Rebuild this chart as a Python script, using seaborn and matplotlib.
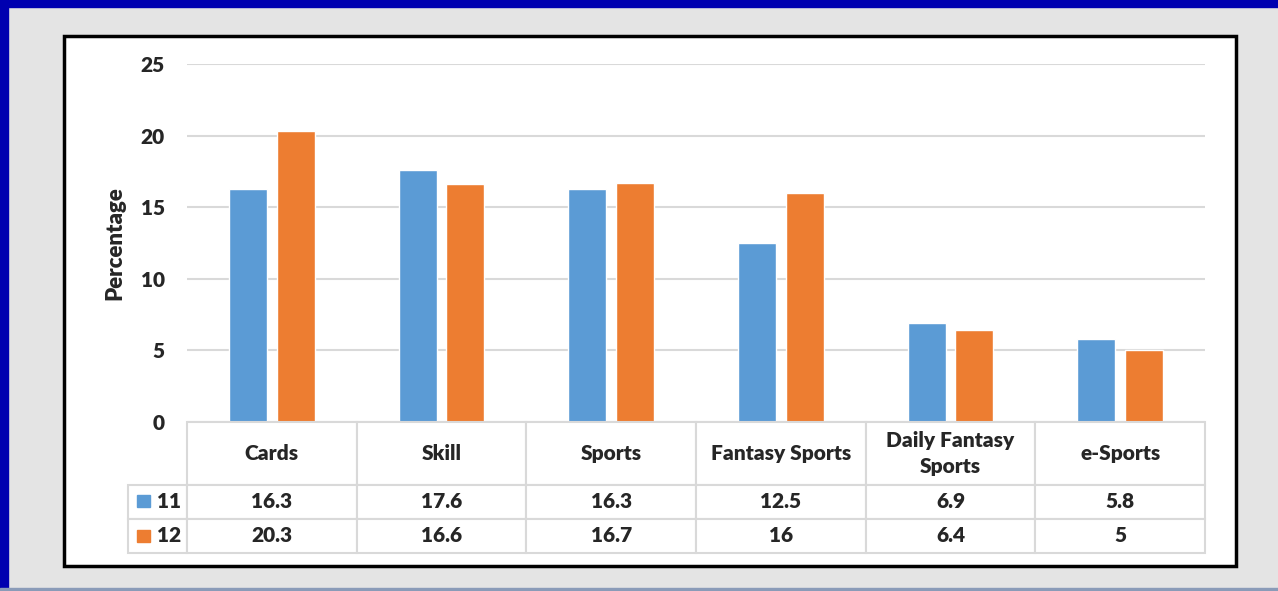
import pandas as pd
import matplotlib.pyplot as plt
import seaborn as sns
from matplotlib.patches import Rectangle
from matplotlib.table import Table

# chart values
categories = ["Cards", "Skill", "Sports", "Fantasy Sports", "Daily Fantasy\nSports", "e-Sports"]
series_names = ["11", "12"]
values_11 = [16.3, 17.6, 16.3, 12.5, 6.9, 5.8]
values_12 = [20.3, 16.6, 16.7, 16, 6.4, 5]
table_11 = ["16.3", "17.6", "16.3", "12.5", "6.9", "5.8"]
table_12 = ["20.3", "16.6", "16.7", "16", "6.4", "5"]
y_ticks = [0, 5, 10, 15, 20, 25]

blue = "#5b9bd5"
orange = "#ed7d31"
grid_col = "#d9d9d9"
weight = "heavy"

df = pd.DataFrame({
    "Category": categories * 2,
    "Year": [series_names[0]] * 6 + [series_names[1]] * 6,
    "Percentage": values_11 + values_12,
})

sns.set_style("white")
plt.rcParams["font.family"] = ["Lato", "DejaVu Sans"]

W, H = 1278, 591
fig = plt.figure(figsize=(W / 100, H / 100), dpi=100, facecolor="#e4e4e4")

# slide frame and white chart box
fig.patches.append(Rectangle((0, 1 - 7 / H), 1, 7 / H, transform=fig.transFigure,
                             color="#0000b0", zorder=-1))
fig.patches.append(Rectangle((0, 0), 8 / W, 1, transform=fig.transFigure,
                             color="#0000b0", zorder=-1))
fig.patches.append(Rectangle((0, 0), 1, 3 / H, transform=fig.transFigure,
                             color="#8a9bb8", zorder=-1))
fig.patches.append(Rectangle((64 / W, 1 - 566 / H), (1236 - 64) / W, (566 - 36) / H,
                             transform=fig.transFigure, facecolor="white",
                             edgecolor="black", lw=2.5, zorder=-1))

# bar chart
ax = fig.add_axes([187 / W, 1 - 422 / H, (1205 - 187) / W, (422 - 64) / H])
ax.set_facecolor("none")
sns.barplot(data=df, x="Category", y="Percentage", hue="Year",
            palette=[blue, orange], width=0.56, gap=0.2, saturation=1,
            legend=False, ax=ax)
ax.set_xlim(-0.5, 5.5)
ax.set_ylim(0, 25)
ax.set_yticks(y_ticks)
ax.set_xticks([])
ax.set_xlabel("")
ax.set_ylabel("Percentage", fontsize=16, fontweight=weight, labelpad=11)
ax.tick_params(axis="y", length=0, pad=16, labelsize=15)
for lab in ax.get_yticklabels():
    lab.set_fontweight(weight)
ax.yaxis.grid(True, color=grid_col, lw=1.5)
ax.set_axisbelow(True)
for s in ax.spines.values():
    s.set_visible(False)

# data table below the bars
tax = fig.add_axes([128 / W, 1 - 553 / H, (1205 - 128) / W, (553 - 422) / H])
tax.axis("off")
tbl = Table(tax, bbox=[0, 0, 1, 1])
col_w = 1018 / 6
rows = [table_11, table_12]
for c, cat in enumerate(categories):
    tbl.add_cell(0, c + 1, width=col_w, height=63, text=cat, loc="center")
for r, (name, vals) in enumerate(zip(series_names, rows)):
    tbl.add_cell(r + 1, 0, width=59, height=34, text=name, loc="right")
    for c, v in enumerate(vals):
        tbl.add_cell(r + 1, c + 1, width=col_w, height=34, text=v, loc="center")
tbl.auto_set_font_size(False)
tbl.set_fontsize(15)
for cell in tbl.get_celld().values():
    cell.set_edgecolor(grid_col)
    cell.set_linewidth(1.5)
    cell.get_text().set_fontweight(weight)
    cell.get_text().set_linespacing(1.45)
tax.add_table(tbl)

# legend swatches in the row label cells
for i, col in enumerate([blue, orange]):
    y0 = [495, 530][i]
    fig.patches.append(Rectangle((137 / W, 1 - (y0 + 12) / H), 13 / W, 12 / H,
                                 transform=fig.transFigure, color=col, zorder=5))

fig.savefig("out.png", dpi=100, facecolor=fig.get_facecolor())
